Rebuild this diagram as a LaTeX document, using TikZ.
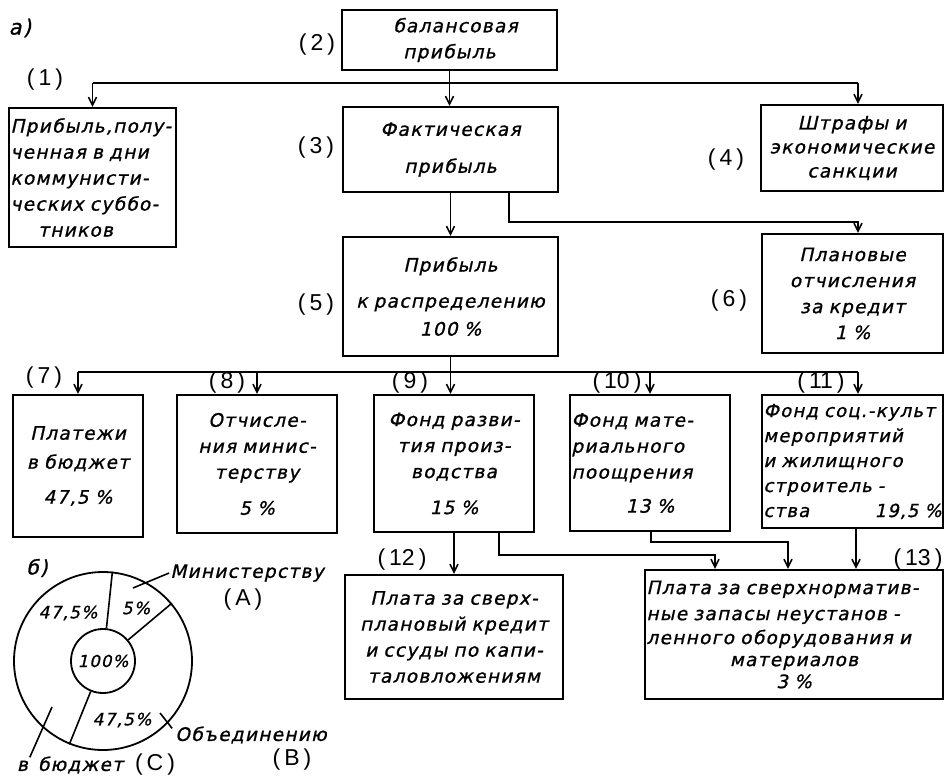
\documentclass[tikz,border=0pt]{standalone}
\usepackage{fontspec}
\setmainfont{DejaVu Sans}
\newfontfamily\bx[LetterSpace=7,WordSpace=1.4,FakeSlant=0.22,FakeBold=1]{DejaVu Sans}
\newfontfamily\lbl{Liberation Sans}
\usetikzlibrary{arrows.meta}
\begin{document}
\begin{tikzpicture}[x=1pt,y=-1pt,
  box/.style={draw,line width=2.2pt,inner sep=1.5pt,font=\bx\fontsize{18.5}{26}\selectfont},
  txt/.style={font=\bx\fontsize{18.5}{26}\selectfont,inner sep=1pt},
  num/.style={font=\lbl\fontsize{23}{23}\selectfont,inner sep=1pt},
  conn/.style={line width=1.6pt},
  arr/.style={conn,-{Straight Barb[length=8pt,width=8pt]}},
  pl/.style={line width=1.6pt},
]
\useasboundingbox[fill=white] (0,0) rectangle (945,781);

% ---- boxes ----
\node[box,minimum width=215pt,minimum height=60pt,text width=212pt,align=center] (b2) at (449.5,40)
  {\hspace*{12pt}балансовая\\прибыль};
\node[box,minimum width=167pt,minimum height=139pt,text width=164pt,align=left] (b1) at (92.5,177.5)
  {Прибыль,полу-\\ченная в дни\\коммунисти-\\ческих суббо-\\\hspace*{1.5em}тников};
\node[box,minimum width=215pt,minimum height=85pt,text width=212pt,align=center] (b3) at (450.5,149.5)
  {Фактическая\\[11pt]прибыль};
\node[box,minimum width=182pt,minimum height=86pt,text width=179pt,align=center] (b4) at (852,148)
  {Штрафы и\\[-2pt]экономические\\[-2pt]санкции};
\node[box,minimum width=215pt,minimum height=119pt,text width=212pt,align=center] (b5) at (450.5,296.5)
  {Прибыль\\[10pt]к распределению\\[2pt]100 \%};
\node[box,minimum width=181pt,minimum height=119pt,text width=178pt,align=center] (b6) at (852.5,293.5)
  {Плановые\\отчисления\\за кредит\\1 \%};
\node[box,minimum width=130pt,minimum height=142pt,text width=127pt,align=center] (b7) at (78,466)
  {Платежи\\[3pt]в бюджет\\[9pt]47,5 \%};
\node[box,minimum width=160pt,minimum height=138pt,text width=157pt,align=center] (b8) at (257,464)
  {Отчисле-\\ния минис-\\терству\\[10pt]5 \%};
\node[box,minimum width=160pt,minimum height=137pt,text width=157pt,align=center] (b9) at (454,463.5)
  {Фонд разви-\\тия произ-\\водства\\[10pt]15 \%};
\node[box,minimum width=160pt,minimum height=136pt,text width=157pt,align=left] (b10) at (650,463)
  {Фонд мате-\\риального\\поощрения\\[8pt]\hfil 13 \%};
\node[box,minimum width=181pt,minimum height=133pt,text width=178pt,align=left,font=\bx\fontsize{18}{25}\selectfont] (b11) at (852.5,461.5)
  {Фонд соц.-культ\\мероприятий\\и жилищного\\строитель -\\ства\hfill 19,5 \%};
\node[box,minimum width=218pt,minimum height=124pt,text width=215pt,align=center] (b12) at (454,637)
  {Плата за сверх-\\плановый кредит\\и ссуды по капи-\\таловложениям};
\node[box,minimum width=298pt,minimum height=129pt,text width=295pt,align=left] (b13) at (794,634.5)
  {Плата за сверхнорматив-\\ные запасы неустанов -\\[-2pt]ленного оборудования и\\[-4pt]\hfil материалов\\[-4pt]\hfil 3 \%};

% ---- numbers ----
\node[num] (n1) at (45,80) {(\kern4pt1\kern4pt)};
\node[num] (n2) at (317,45) {(\kern4pt2\kern4pt)};
\node[num] (n3) at (316,148) {(\kern4pt3\kern4pt)};
\node[num] (n4) at (726,160) {(\kern4pt4\kern4pt)};
\node[num] (n5) at (316,305) {(\kern4pt5\kern4pt)};
\node[num] (n6) at (729,301) {(\kern4pt6\kern4pt)};
\node[num] (n7) at (44,378) {(\kern4pt7\kern4pt)};
\node[num] (n8) at (227,383) {(\kern4pt8\kern4pt)};
\node[num] (n9) at (410,383) {(\kern4pt9\kern4pt)};
\node[num] (n10) at (617,383) {(\kern4pt10\kern4pt)};
\node[num] (n11) at (821,383) {(\kern4pt11\kern4pt)};
\node[num] (n12) at (402,560) {(\kern4pt12\kern4pt)};
\node[num] (n13) at (918,560) {(\kern4pt13\kern4pt)};

\node[txt,font=\bx\fontsize{21}{21}\selectfont] (la) at (20,28) {a)};
\node[txt,font=\bx\fontsize{20}{20}\selectfont] (lb6) at (37,568) {б)};

% ---- connectors ----
\coordinate (h1) at (0,83);
\coordinate (a4) at (858,83);
\draw[conn] (h1 -| b1.north) -- (a4);
\draw[arr] (h1 -| b1.north) -- (b1.north);
\draw[arr] (b2.south) -- (b2.south |- b3.north);
\draw[arr] (a4) -- (a4 |- b4.north);

\draw[arr] (b3.south) -- (b3.south |- b5.north);
\coordinate (k3) at (509,222);
\coordinate (a6) at (858,222);
\draw[arr] (b3.south -| k3) -- (k3) -- (a6) -- (a6 |- b6.north);

\coordinate (h2) at (0,372);
\coordinate (a11) at (858,372);
\draw[conn] (h2 -| b7.north) -- (a11);
\draw[arr] (h2 -| b7.north) -- (b7.north);
\draw[arr] (h2 -| b8.north) -- (b8.north);
\draw[arr] (b5.south) -- (b5.south |- b9.north);
\draw[arr] (h2 -| b10.north) -- (b10.north);
\draw[arr] (a11) -- (a11 |- b11.north);

\draw[arr] (b9.south) -- (b9.south |- b12.north);
\coordinate (k9) at (499,555);
\coordinate (t9) at (715,555);
\draw[arr] (b9.south -| k9) -- (k9) -- (t9) -- (t9 |- b13.north);
\coordinate (k10) at (651,542);
\coordinate (t10) at (788,542);
\draw[arr] (b10.south -| k10) -- (k10) -- (t10) -- (t10 |- b13.north);
\coordinate (k11) at (856,550);
\draw[arr] (b11.south -| k11) -- (k11 |- b13.north);

% ---- pie chart ----
\node[circle,draw,line width=1.8pt,minimum size=178pt,inner sep=0pt] (po) at (103,661) {};
\node[circle,draw,line width=1.8pt,minimum size=64pt,inner sep=0pt,font=\bx\fontsize{16.5}{16}\selectfont] (pi) at (103,661) {100\%};
\draw[pl] (pi.84) -- (po.84);
\draw[pl] (pi.40) -- (po.40);
\draw[pl] (pi.248) -- (po.248);
\node[txt,font=\bx\fontsize{17}{16}\selectfont] (p1) at (68,613) {47,5\%};
\node[txt,font=\bx\fontsize{17}{16}\selectfont] (p2) at (136,608) {5\%};
\node[txt,font=\bx\fontsize{17}{16}\selectfont] (p3) at (122,720) {47,5\%};

\node[txt] (lA) at (247,573) {Министерству};
\node[num] (lAA) at (243,600) {(\kern4pt A\kern4pt)};
\node[txt] (lB) at (251,735) {Объединению};
\node[num] (lBB) at (292,760) {(\kern4pt B\kern4pt)};
\node[txt] (lC) at (70,765) {в бюджет};
\node[num] (lCC) at (155,765) {(\kern4pt C\kern4pt)};

\coordinate (qa) at (133,588);
\draw[pl] (qa) -- (lA.west);
\coordinate (qb) at (160,713);
\draw[pl] (qb) -- ([xshift=-2pt,yshift=-3pt]lB.north west);
\coordinate (qc) at (52,707);
\draw[pl] (qc) -- ([xshift=14pt,yshift=-2pt]lC.north west);
\end{tikzpicture}
\end{document}
